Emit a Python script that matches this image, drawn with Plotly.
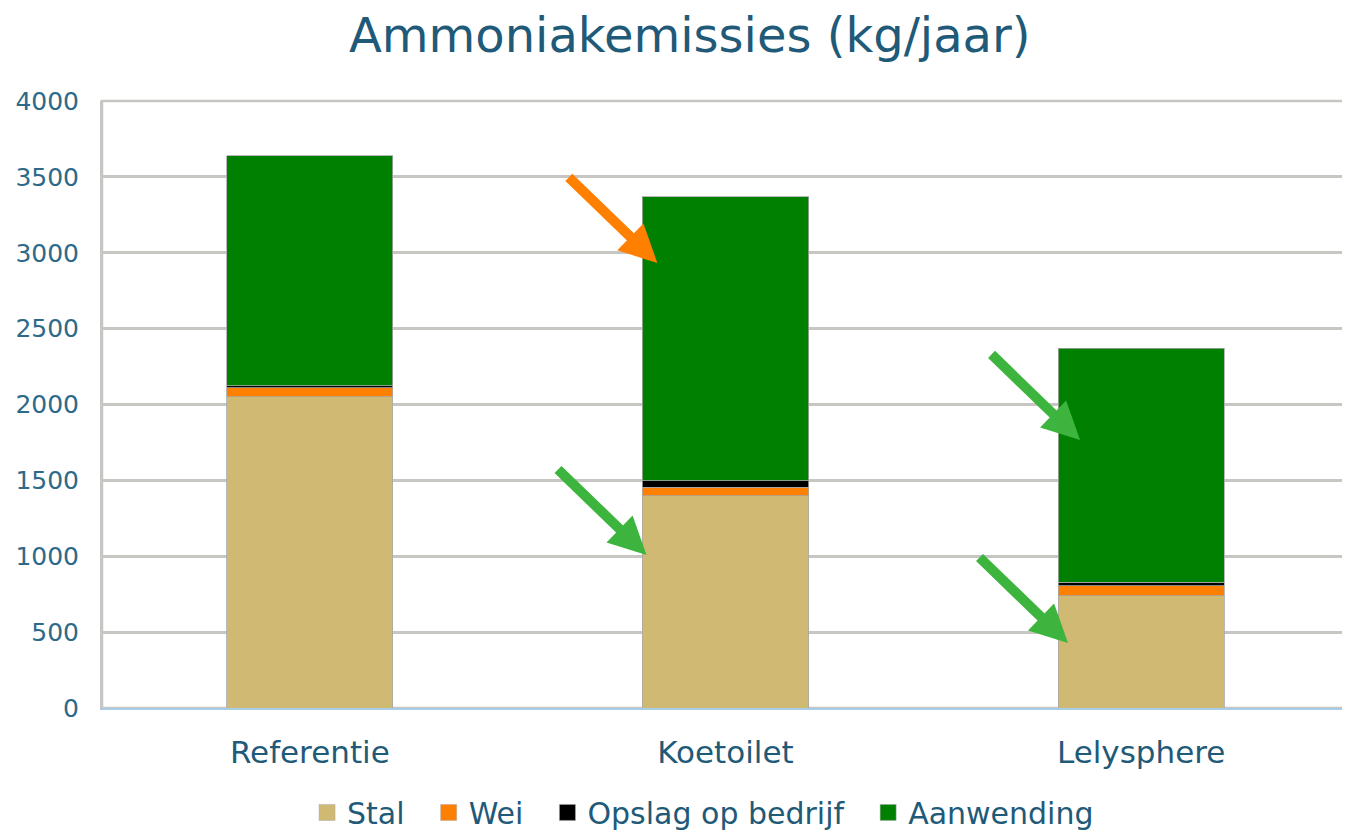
import plotly.graph_objects as go

categories = ["Referentie", "Koetoilet", "Lelysphere"]
stal = [2050, 1400, 740]
wei = [60, 55, 66]
opslag = [13, 43, 22]
aanwending = [1515, 1870, 1544]
y_ticks = [0, 500, 1000, 1500, 2000, 2500, 3000, 3500, 4000]

series = [
    ("Stal", stal, "#D0B973"),
    ("Wei", wei, "#FF7F00"),
    ("Opslag op bedrijf", opslag, "#000000"),
    ("Aanwending", aanwending, "#008000"),
]

fig = go.Figure()
for name, vals, col in series:
    fig.add_trace(go.Bar(
        x=categories, y=vals, name=name, marker_color=col,
        marker_line_color="#A8A8A8", marker_line_width=0.8,
        showlegend=False, legendgroup=name,
    ))
# legend entries with larger square swatches
for i, (name, vals, col) in enumerate(series):
    pad = "\u00a0\u00a0" if i < len(series) - 1 else ""
    fig.add_trace(go.Scatter(
        x=[None], y=[None], mode="markers", name=name + pad, legendgroup=name,
        marker=dict(symbol="square", size=16, color=col,
                    line=dict(color="#A8A8A8", width=0.5)),
    ))

# arrows (tip at data position, tail offset in pixels)
arrows = [
    (0.836, 2933, "#FF7F00"),
    (0.81, 1008, "#3DB43D"),
    (1.853, 1766, "#3DB43D"),
    (1.824, 428, "#3DB43D"),
]
for xx, yy, col in arrows:
    fig.add_annotation(
        x=xx, y=yy, xref="x", yref="y", ax=-90, ay=-87,
        showarrow=True, arrowhead=2, arrowsize=0.75, arrowwidth=10,
        arrowcolor=col, text="",
    )

fig.update_layout(
    width=1342, height=826,
    barmode="stack", bargap=0.6,
    plot_bgcolor="white", paper_bgcolor="white",
    font=dict(family="DejaVu Sans", color="#1F5A78"),
    title=dict(text="Ammoniakemissies (kg/jaar)", x=0.508, xanchor="center",
               y=0.967, yref="container", yanchor="middle",
               font=dict(size=48, color="#1F5A78", family="DejaVu Sans")),
    margin=dict(l=94, r=1, t=93, b=126, autoexpand=False),
    showlegend=True,
    legend=dict(orientation="h", x=0.482, xanchor="center", y=-0.172, yanchor="middle",
                font=dict(size=30, color="#1F5A78"), traceorder="normal",
                itemwidth=30),
    xaxis=dict(showgrid=False, tickfont=dict(size=31, color="#1F5A78"),
               showline=True, linecolor="#A8CDE8", linewidth=2, mirror=False,
               ticks="", ticklabelstandoff=16, automargin=False),
    yaxis=dict(range=[0, 4000], tickvals=y_ticks, showgrid=True,
               gridcolor="#C8C6C2", gridwidth=2.5,
               tickfont=dict(size=25, color="#2E6A88"),
               showline=True, linecolor="#C8C6C2", linewidth=2, mirror=True,
               zeroline=False, ticks="", ticklabelstandoff=16, automargin=False),
)
fig.add_shape(type="rect", xref="paper", yref="paper", x0=0, x1=1, y0=0, y1=1,
              line=dict(color="#C8C6C2", width=2.5), layer="below")

fig.write_html("out.html")
